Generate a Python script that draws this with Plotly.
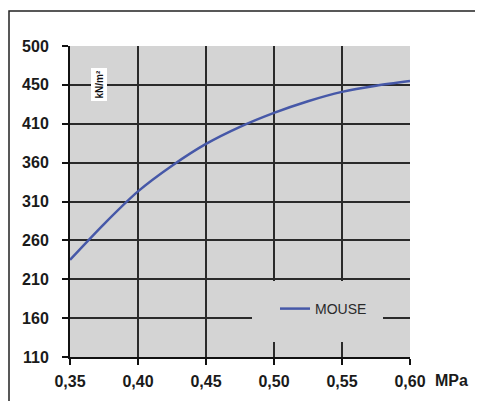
import plotly.graph_objects as go

# ---- data ----
pressure_mpa = [0.35, 0.375, 0.40, 0.425, 0.45, 0.475, 0.50, 0.525, 0.55, 0.575, 0.60]
mouse_values = [235, 281, 323, 356, 384, 406, 424, 439, 451, 459, 465]
series_name = "MOUSE"

x_tick_vals = [0.35, 0.40, 0.45, 0.50, 0.55, 0.60]
x_tick_text = ["0,35", "0,40", "0,45", "0,50", "0,55", "0,60"]
y_tick_vals = [110, 160, 210, 260, 310, 360, 410, 460, 510]
y_tick_text = ["110", "160", "210", "260", "310", "360", "410", "450", "500"]
x_unit = "MPa"
y_unit = "kN/m²"

W, H = 483, 401
OFF = 8  # page offset of the figure (body margin)
# wanted on-screen plot box: x 70..410, y 46..357
ML = 70 - OFF
MT = 46 - OFF
MR = W - (410 - OFF)
MB = H - (357 - OFF)
PW = W - ML - MR
PH = H - MT - MB

def px_x(p):
    return (p - OFF - ML) / PW

def px_y(p):
    return (H - MB - (p - OFF)) / PH

FONT = "Liberation Sans, Arial, sans-serif"
GRID = "#2a2a2a"
BG = "#d4d4d4"

fig = go.Figure()
fig.add_trace(go.Scatter(
    x=pressure_mpa, y=mouse_values, name=series_name,
    mode="lines", line=dict(color="#4658a8", width=2.5, shape="spline", smoothing=0.8),
    showlegend=True,
))

fig.update_layout(
    width=W, height=H,
    margin=dict(l=ML, r=MR, t=MT, b=MB, pad=0, autoexpand=False),
    paper_bgcolor="white",
    plot_bgcolor=BG,
    showlegend=True,
    legend=dict(
        x=px_x(275), y=px_y(309), xanchor="left", yanchor="middle",
        bgcolor="rgba(0,0,0,0)", borderwidth=0,
        font=dict(family=FONT, size=14, color="#2a2a2a"),
    ),
    xaxis=dict(
        range=[0.35, 0.60], tickmode="array", tickvals=x_tick_vals, ticktext=x_tick_text,
        showgrid=True, gridcolor=GRID, gridwidth=2,
        showline=True, linecolor="#111", linewidth=2,
        ticks="outside", ticklen=6, tickwidth=2, tickcolor="#111",
        ticklabelstandoff=3, automargin=False,
        tickfont=dict(family=FONT, size=16, color="#1a1a1a", weight="bold"),
        zeroline=False,
    ),
    yaxis=dict(
        range=[110, 510], tickmode="array", tickvals=y_tick_vals, ticktext=y_tick_text,
        showgrid=True, gridcolor=GRID, gridwidth=2,
        showline=True, linecolor="#111", linewidth=2,
        ticks="outside", ticklen=6, tickwidth=2, tickcolor="#111",
        ticklabelstandoff=10, automargin=False,
        tickfont=dict(family=FONT, size=16, color="#1a1a1a", weight="bold"),
        zeroline=False,
    ),
    shapes=[
        # legend background hiding grid lines
        dict(type="rect", xref="paper", yref="paper",
             x0=px_x(252), x1=px_x(383), y0=px_y(342), y1=px_y(281),
             fillcolor=BG, line=dict(width=0), layer="above"),
        # outer frame
        dict(type="rect", xref="paper", yref="paper",
             x0=px_x(9), x1=px_x(520), y0=px_y(440), y1=px_y(11),
             fillcolor="rgba(0,0,0,0)", line=dict(color="#222", width=1.5), layer="above"),
    ],
    annotations=[
        dict(text="<b>" + x_unit + "</b>", xref="paper", yref="paper",
             x=px_x(451), y=px_y(380), xanchor="center", yanchor="middle",
             showarrow=False, font=dict(family=FONT, size=16, color="#1a1a1a")),
        dict(text="<b>" + y_unit + "</b>", xref="paper", yref="paper",
             x=px_x(98.5), y=px_y(85), xanchor="center", yanchor="middle",
             textangle=-90, showarrow=False, bgcolor="white", borderpad=2,
             font=dict(family=FONT, size=10, color="#111")),
    ],
)

fig.write_html("out.html")
